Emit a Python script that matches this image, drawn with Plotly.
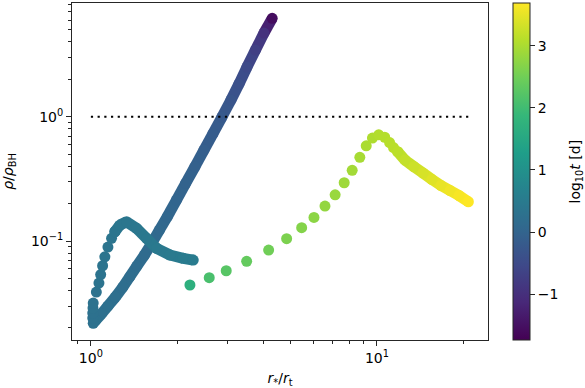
import plotly.graph_objects as go
from plotly.colors import sample_colorscale

# ---------------- data ----------------
# branch 1a: early evolution, diagonal going down (time order)
r_diag = [4.303, 4.027, 3.760, 3.512, 3.292, 3.087, 2.871, 2.671, 2.484, 2.310,
          2.144, 1.991, 1.849, 1.736, 1.634, 1.539, 1.448, 1.369, 1.294, 1.218,
          1.147, 1.088, 1.041, 1.019]
rho_diag = [6.19, 4.714, 3.440, 2.511, 1.833, 1.363, 0.9945, 0.7325, 0.5397, 0.396,
            0.2912, 0.2137, 0.1568, 0.1226, 0.0964, 0.0772, 0.0629, 0.0518, 0.0427, 0.0354,
            0.0300, 0.0259, 0.0231, 0.0218]
t_diag = [-1.55, -0.95, -0.70, -0.52, -0.40, -0.30, -0.22, -0.16, -0.11, -0.06,
          -0.02, 0.02, 0.06, 0.09, 0.12, 0.15, 0.17, 0.19, 0.21, 0.23,
          0.25, 0.26, 0.27, 0.28]

# branch 1b: loop after pericentre
r_loop = [1.015, 1.015, 1.017, 1.019, 1.045, 1.067, 1.082, 1.099, 1.119, 1.147, 1.181, 1.213,
          1.263, 1.333, 1.445, 1.566, 1.697, 1.889, 2.102, 2.279]
rho_loop = [0.0240, 0.02635, 0.0289, 0.0317, 0.0389, 0.0459, 0.0538, 0.0633, 0.0747, 0.0895,
            0.1051, 0.1188, 0.1345, 0.1429, 0.1265, 0.1051, 0.0874, 0.0772, 0.0726, 0.0703]
t_loop = [0.285, 0.29, 0.295, 0.30, 0.31, 0.32, 0.33, 0.34, 0.35, 0.36, 0.37, 0.38,
          0.39, 0.40, 0.42, 0.44, 0.46, 0.48, 0.50, 0.52]

# branch 2: late evolution (sparse points)
r_late = [2.219, 2.592, 2.972, 3.503, 4.181, 4.833, 5.454, 6.022, 6.58, 7.14,
          7.68, 8.19, 8.71, 9.17, 9.64, 10.14, 10.64, 11.07, 11.42, 11.81]
rho_late = [0.0443, 0.0507, 0.0577, 0.0687, 0.0847, 0.1044, 0.128, 0.155, 0.191, 0.2354,
            0.2944, 0.371, 0.472, 0.584, 0.674, 0.715, 0.684, 0.62, 0.565, 0.523]
t_late = [1.68, 2.10, 2.25, 2.38, 2.50, 2.60, 2.67, 2.74, 2.80, 2.85,
          2.89, 2.93, 2.97, 3.00, 3.03, 3.06, 3.08, 3.10, 3.12, 3.14]

# branch 2 tail (dense)
r_tail = [11.81, 12.53, 13.47, 14.48, 15.57, 16.74, 18.0, 19.35, 20.86]
rho_tail = [0.523, 0.4483, 0.396, 0.3524, 0.3125, 0.2796, 0.2548, 0.2323, 0.2071]
t_tail = [3.14, 3.20, 3.28, 3.36, 3.44, 3.51, 3.58, 3.64, 3.69]

# reference level rho/rho_BH = 1
ref_r = [1.0, 20.9]
ref_rho = [1.0, 1.0]

# colour range and ticks
t_min, t_max = -1.74, 3.69
cbar_ticks = [-1, 0, 1, 2, 3]
x_ticks = [1, 10]
x_ticktext = ["10<sup>0</sup>", "10<sup>1</sup>"]
x_minor = [0.9, 2, 3, 4, 5, 6, 7, 8, 9, 20]
y_ticks = [0.1, 1]
y_ticktext = ["10<sup>\u22121</sup>", "10<sup>0</sup>"]
y_minor = [0.02, 0.03, 0.04, 0.05, 0.06, 0.07, 0.08, 0.09,
           0.2, 0.3, 0.4, 0.5, 0.6, 0.7, 0.8, 0.9, 2, 3, 4, 5, 6, 7, 8]

# ---------------- figure ----------------
MS = 11
FONT = "DejaVu Sans"
AX = "#262626"
N_LOOP_SPARSE = 12  # loop points drawn as separate dots before the smooth part


def tcolor(t):
    v = (t - t_min) / (t_max - t_min)
    v = min(max(v, 0.0), 1.0)
    return sample_colorscale("Viridis", [v])[0]


fig = go.Figure()


def add_branch(xs, ys, ts, connect):
    if connect:
        for i in range(len(xs) - 1):
            fig.add_trace(go.Scatter(
                x=[xs[i], xs[i + 1]], y=[ys[i], ys[i + 1]], mode="lines",
                line=dict(color=tcolor(0.5 * (ts[i] + ts[i + 1])), width=MS),
                hoverinfo="skip", showlegend=False))
    fig.add_trace(go.Scatter(
        x=xs, y=ys, mode="markers",
        marker=dict(size=MS, color=ts, coloraxis="coloraxis", line=dict(width=0)),
        hoverinfo="skip", showlegend=False))


add_branch(r_diag, rho_diag, t_diag, True)
add_branch(r_loop[:N_LOOP_SPARSE], rho_loop[:N_LOOP_SPARSE], t_loop[:N_LOOP_SPARSE], False)
add_branch(r_loop[N_LOOP_SPARSE - 1:], rho_loop[N_LOOP_SPARSE - 1:],
           t_loop[N_LOOP_SPARSE - 1:], True)
add_branch(r_late, rho_late, t_late, False)
add_branch(r_tail, rho_tail, t_tail, True)

fig.add_trace(go.Scatter(
    x=ref_r, y=ref_rho, mode="lines",
    line=dict(color="black", width=2.2, dash="2.2px,4.5px"),
    hoverinfo="skip", showlegend=False))

axis_common = dict(
    type="log", showgrid=False, zeroline=False,
    showline=True, linecolor=AX, linewidth=1, mirror=True,
    ticks="outside", ticklen=5, tickwidth=1, tickcolor=AX,
    tickfont=dict(family=FONT, size=14, color="black"),
    tickmode="array",
)

fig.update_layout(
    width=585, height=388,
    margin=dict(l=72, r=97, t=3, b=48, autoexpand=False),
    paper_bgcolor="white", plot_bgcolor="white",
    font=dict(family=FONT, size=14, color="black"),
    xaxis=dict(
        **axis_common, range=[-0.066, 1.388],
        tickvals=x_ticks, ticktext=x_ticktext,
        minor=dict(tickmode="array", tickvals=x_minor, ticks="outside", ticklen=3,
                   tickwidth=1, tickcolor=AX, showgrid=False),
        title=dict(text="<i>r</i><sub>*</sub>/<i>r</i><sub>t</sub>",
                   font=dict(family=FONT, size=14), standoff=8),
        automargin=False,
    ),
    yaxis=dict(
        **axis_common, range=[-1.796, 0.915],
        tickvals=y_ticks, ticktext=y_ticktext,
        minor=dict(tickmode="array", tickvals=y_minor, ticks="outside", ticklen=3,
                   tickwidth=1, tickcolor=AX, showgrid=False),
        title=dict(text="<i>\u03c1</i>/<i>\u03c1</i><sub>BH</sub>",
                   font=dict(family=FONT, size=14), standoff=14),
        automargin=False,
    ),
    coloraxis=dict(
        colorscale="Viridis", cmin=t_min, cmax=t_max,
        colorbar=dict(
            thickness=17, thicknessmode="pixels",
            len=1, lenmode="fraction", y=0.5, yanchor="middle",
            x=1.061, xanchor="left", xpad=0, ypad=0,
            outlinewidth=1, outlinecolor=AX,
            ticks="outside", ticklen=5, tickwidth=1, tickcolor=AX,
            tickmode="array", tickvals=cbar_ticks,
            tickfont=dict(family=FONT, size=14, color="black"),
        ),
    ),
    annotations=[dict(
        text="log<sub>10</sub><i>t</i> [d]", textangle=-90,
        xref="paper", yref="paper", x=1.2115, y=0.5,
        xanchor="center", yanchor="middle", showarrow=False,
        font=dict(family=FONT, size=14, color="black"),
    )],
)

fig.write_html(
    "out.html",
    config={"displayModeBar": False, "staticPlot": True},
    post_script="document.body.style.margin='0';document.body.style.overflow='hidden';",
)
